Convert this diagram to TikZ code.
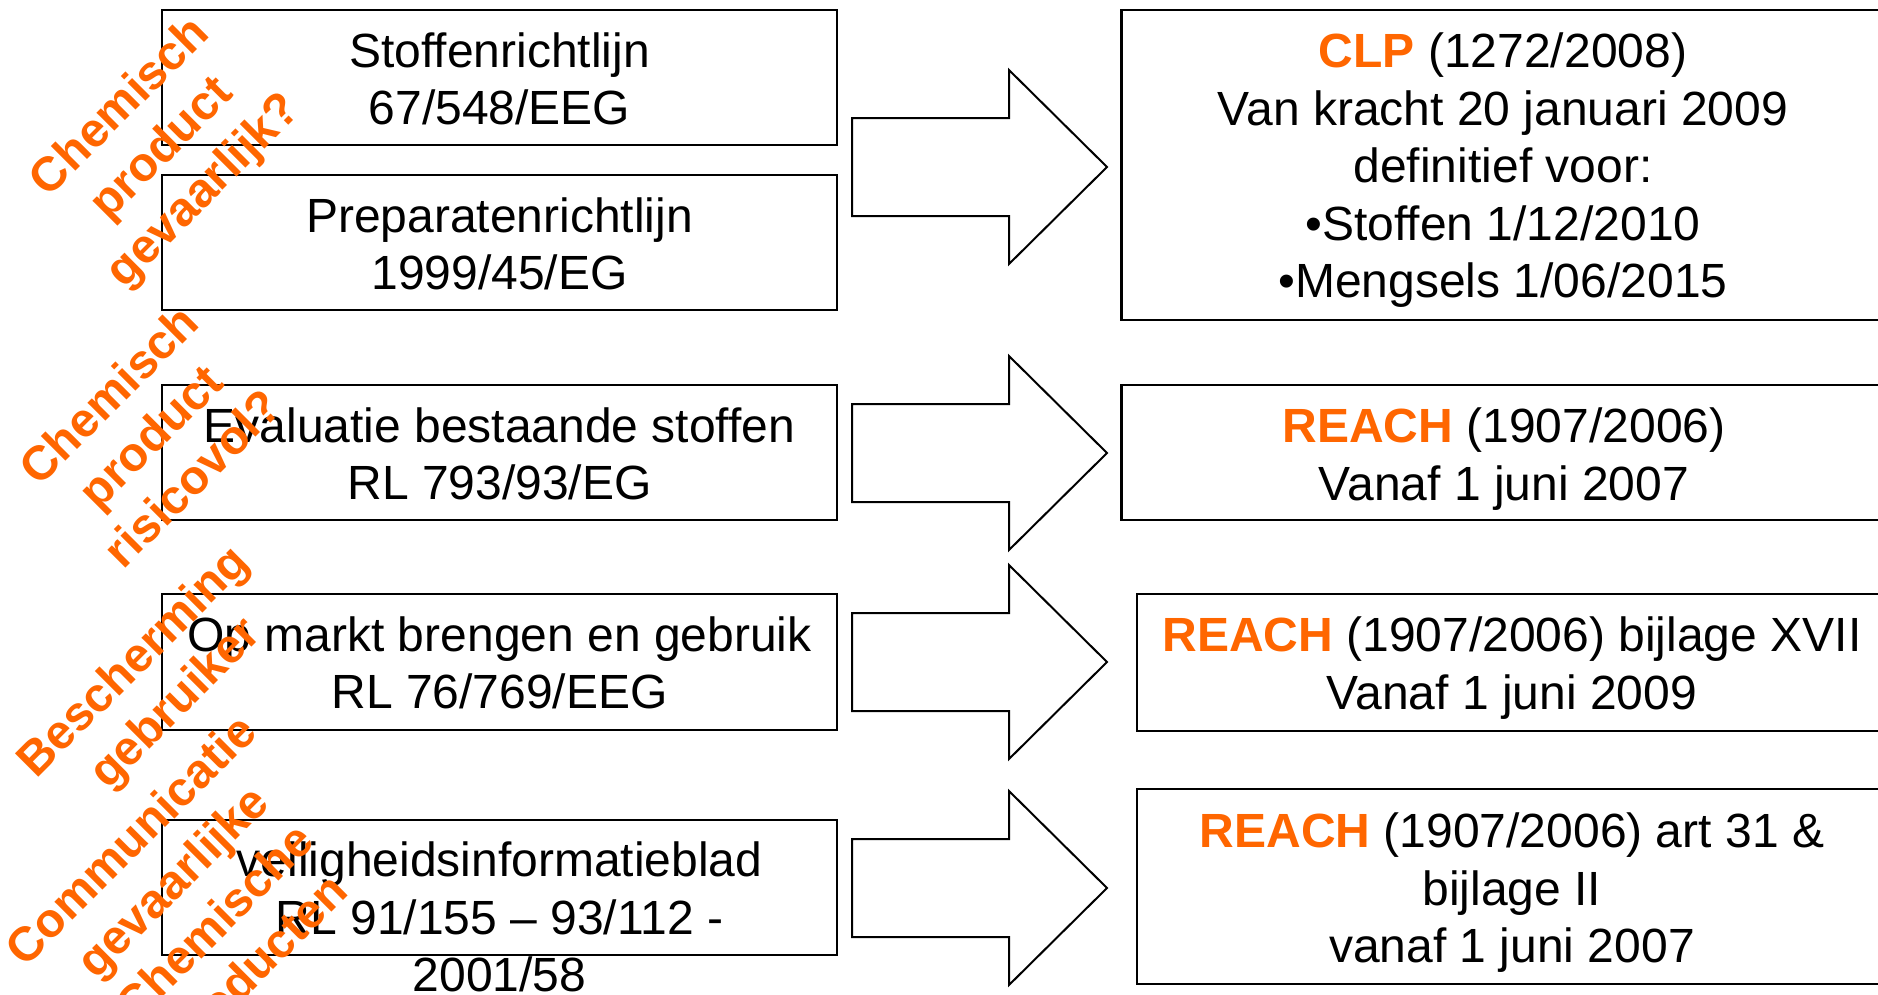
\documentclass[tikz,border=0pt]{standalone}
\usepackage{fontspec}
\setmainfont{Liberation Sans}
\definecolor{orng}{RGB}{255,102,0}
\begin{document}
\begin{tikzpicture}[x=1pt,y=-1pt,
  box/.style={draw=black, line width=2.2pt, fill=white, inner sep=0pt},
  txt/.style={align=center, inner sep=0pt, font=\fontsize{48pt}{57.5pt}\selectfont},
  lbl/.style={align=center, inner sep=0pt, rotate=45, text=orng,
    font=\fontsize{48pt}{59pt}\selectfont\bfseries},
  bigarrow/.pic={\draw[black, line width=2pt, fill=white]
    (0,-49) -- (157,-49) -- (157,-97) -- (255,0) -- (157,97) -- (157,49) -- (0,49) -- cycle;}
]
\useasboundingbox (0,0) rectangle (1878,994);
\fill[white] (0,0) rectangle (1878,994);

% left boxes
\node[box, minimum width=675pt, minimum height=135pt] (b1) at (499.5,77.5) {};
\node[box, minimum width=675pt, minimum height=135pt] (b2) at (499.5,242.5) {};
\node[box, minimum width=675pt, minimum height=135pt] (b3) at (499.5,452.5) {};
\node[box, minimum width=675pt, minimum height=136pt] (b4) at (499.5,662) {};
\node[box, minimum width=675pt, minimum height=135pt] (b5) at (499.5,887.5) {};

% right boxes
\node[box, minimum width=765pt, minimum height=310pt] (r1) at (1504,165) {};
\node[box, minimum width=765pt, minimum height=135pt] (r2) at (1504,452.5) {};
\node[box, minimum width=750pt, minimum height=137pt] (r3) at (1512,662.5) {};
\node[box, minimum width=750pt, minimum height=195pt] (r4) at (1512,886.5) {};

% block arrows
\pic at (852,167) {bigarrow};
\pic at (852,453) {bigarrow};
\pic at (852,662) {bigarrow};
\pic at (852,888) {bigarrow};

% left texts
\node[txt] (t1) at (499.5,79) {Stoffenrichtlijn\\67/548/EEG};
\node[txt] (t2) at (499.5,244) {Preparatenrichtlijn\\1999/45/EG};
\node[txt] (t3) at (499.5,454) {Evaluatie bestaande stoffen\\RL 793/93/EG};
\node[txt] (t4) at (499.5,663) {Op markt brengen en gebruik\\RL 76/769/EEG};
\node[txt] (t5) at (499.5,917) {veiligheidsinformatieblad\\RL 91/155 -- 93/112 -\\2001/58};

% right texts
\node[txt] (s1) at (1503,170.5) {{\color{orng}\bfseries CLP} (1272/2008)\\Van kracht 20 januari 2009\\definitief voor:\\•Stoffen 1/12/2010\\•Mengsels 1/06/2015};
\node[txt] (s2) at (1504,459) {{\color{orng}\bfseries REACH} (1907/2006)\\Vanaf 1 juni 2007};
\node[txt] (s3) at (1512,668) {{\color{orng}\bfseries REACH} (1907/2006) bijlage XVII\\Vanaf 1 juni 2009};
\node[txt] (s4) at (1512,893) {{\color{orng}\bfseries REACH} (1907/2006) art 31 \&\\bijlage II\\vanaf 1 juni 2007};

% orange rotated labels
\node[lbl] (l1) at (163,150) {Chemisch\\product\\gevaarlijk?};
\node[lbl] (l2) at (150,436) {Chemisch\\product\\risicovol?};
\node[lbl] (l3) at (156,684) {Bescherming\\gebruiker};
\node[lbl] (l4) at (196,905) {Communicatie\\gevaarlijke\\Chemische\\producten};
\end{tikzpicture}
\end{document}
